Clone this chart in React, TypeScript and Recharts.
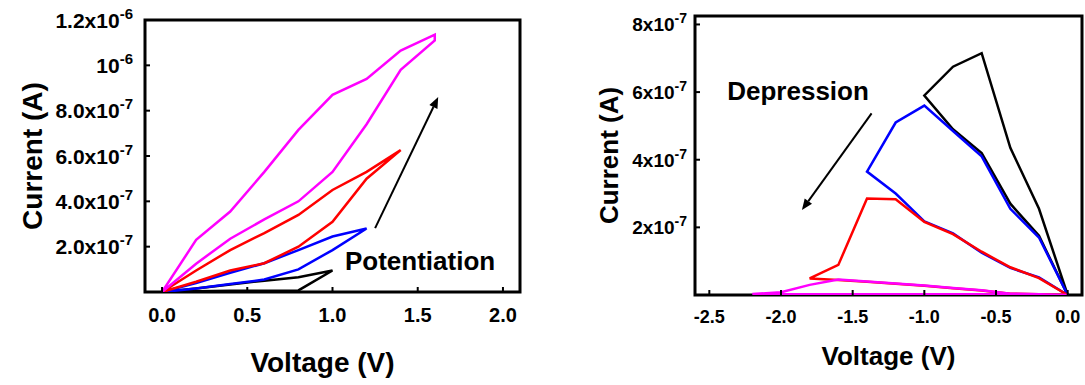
import React from "react"
import { LineChart, Line, XAxis, YAxis, ReferenceArea, ReferenceLine, ReferenceDot } from "recharts"

const FONT = '"Liberation Sans", Arial, Helvetica, sans-serif'

// ---- potentiation sweeps (positive bias), voltage in V, current in A ----
const POT_BLACK_V = [0, 0.2, 0.4, 0.6, 0.8, 1.0, 0.8, 0.6, 0.4, 0.2, 0]
const POT_BLACK_I = [0, 3e-9, 5e-9, 6e-9, 7e-9, 9.5e-8, 6.5e-8, 5e-8, 3.3e-8, 1.5e-8, 0]

const POT_BLUE_V = [0, 0.2, 0.4, 0.6, 0.8, 1.0, 1.2, 1.0, 0.8, 0.6, 0.4, 0.2, 0]
const POT_BLUE_I = [0, 1.5e-8, 3.5e-8, 5.5e-8, 1.0e-7, 1.85e-7, 2.8e-7, 2.45e-7, 1.85e-7, 1.27e-7, 8.5e-8, 4e-8, 0]

const POT_RED_V = [0, 0.2, 0.4, 0.6, 0.8, 1.0, 1.2, 1.4, 1.2, 1.0, 0.8, 0.6, 0.4, 0.2, 0]
const POT_RED_I = [0, 4.5e-8, 9.5e-8, 1.27e-7, 2.0e-7, 3.1e-7, 5.0e-7, 6.26e-7, 5.3e-7, 4.5e-7, 3.4e-7, 2.6e-7, 1.85e-7, 9.5e-8, 0]

const POT_MAG_V = [0, 0.2, 0.4, 0.6, 0.8, 1.0, 1.2, 1.4, 1.6, 1.6, 1.4, 1.2, 1.0, 0.8, 0.6, 0.4, 0.2, 0]
const POT_MAG_I = [0, 1.25e-7, 2.35e-7, 3.2e-7, 4.0e-7, 5.3e-7, 7.4e-7, 9.8e-7, 1.11e-6, 1.135e-6, 1.065e-6, 9.4e-7, 8.7e-7, 7.15e-7, 5.3e-7, 3.55e-7, 2.3e-7, 0]

// ---- depression sweeps (negative bias) ----
const DEP_BLACK_V = [0, -0.2, -0.4, -0.6, -0.8, -1.0, -0.8, -0.6, -0.4, -0.2, 0]
const DEP_BLACK_I = [0, 2.55e-7, 4.35e-7, 7.15e-7, 6.75e-7, 5.9e-7, 4.9e-7, 4.2e-7, 2.7e-7, 1.75e-7, 0]

const DEP_BLUE_V = [0, -0.2, -0.4, -0.6, -0.8, -1.0, -1.2, -1.4, -1.2, -1.0, -0.8, -0.6, -0.4, -0.2, 0]
const DEP_BLUE_I = [0, 1.7e-7, 2.55e-7, 4.1e-7, 4.85e-7, 5.6e-7, 5.1e-7, 3.65e-7, 3.0e-7, 2.18e-7, 1.82e-7, 1.25e-7, 8.0e-8, 5.2e-8, 0]

const DEP_RED_V = [0, -0.2, -0.4, -0.6, -0.8, -1.0, -1.2, -1.4, -1.6, -1.8, -1.6, -1.4, -1.2, -1.0, -0.8, -0.6, -0.4, -0.2, 0]
const DEP_RED_I = [0, 5e-8, 8.2e-8, 1.28e-7, 1.8e-7, 2.16e-7, 2.83e-7, 2.85e-7, 8.9e-8, 4.9e-8, 4.4e-8, 3.9e-8, 3.3e-8, 2.7e-8, 2.0e-8, 1.3e-8, 4e-9, 2e-9, 0]

const DEP_MAG_V = [0, -0.2, -0.4, -0.6, -0.8, -1.0, -1.2, -1.4, -1.6, -1.8, -2.0, -2.2, -2.0, -1.8, -1.6, -1.4, -1.2, -1.0, -0.8, -0.6, -0.4, -0.2, 0]
const DEP_MAG_I = [0, 1e-9, 1e-9, 2e-9, 2e-9, 2e-9, 2e-9, 2e-9, 2e-9, 2e-9, 2e-9, 3e-9, 8e-9, 3e-8, 4.6e-8, 4.0e-8, 3.4e-8, 2.8e-8, 2.1e-8, 1.4e-8, 4e-9, 2e-9, 0]

// ---- axes ----
const POT_X_DOMAIN = [-0.1, 2.1]
const POT_Y_DOMAIN = [0, 1.2e-6]
const POT_X_TICKS = [0, 0.5, 1.0, 1.5, 2.0]
const POT_X_LABELS = ["0.0", "0.5", "1.0", "1.5", "2.0"]
const POT_Y_TICKS = [2e-7, 4e-7, 6e-7, 8e-7, 1e-6, 1.2e-6]
const POT_Y_LABELS = [["2.0x10", "-7"], ["4.0x10", "-7"], ["6.0x10", "-7"], ["8.0x10", "-7"], ["10", "-6"], ["1.2x10", "-6"]]

const DEP_X_DOMAIN = [-2.6, 0.1]
const DEP_Y_DOMAIN = [0, 8.25e-7]
const DEP_X_TICKS = [-2.5, -2.0, -1.5, -1.0, -0.5, 0]
const DEP_X_LABELS = ["-2.5", "-2.0", "-1.5", "-1.0", "-0.5", "0.0"]
const DEP_Y_TICKS = [2e-7, 4e-7, 6e-7, 8e-7]
const DEP_Y_LABELS = [["2x10", "-7"], ["4x10", "-7"], ["6x10", "-7"], ["8x10", "-7"]]

const COLORS = { black: "#000000", blue: "#0000ff", red: "#ff0000", magenta: "#ff00ff" }

const pts = (v: number[], i: number[]) => v.map((x, k) => ({ v: x, i: i[k] }))

function YTick(props: any) {
  const { x, y, payload, ticks, labels, fontSize, supSize, gap } = props
  const k = ticks.indexOf(payload.value)
  const lab = labels[k] || ["", ""]
  return (
    <g>
      <line x1={x} y1={y} x2={x + 5} y2={y} stroke="#000" strokeWidth={2} />
      <text x={x - gap} y={y + fontSize * 0.36} textAnchor="end" fontFamily={FONT} fontWeight="bold" fontSize={fontSize} fill="#000">
        {lab[0]}
        <tspan fontSize={supSize} dy={-fontSize * 0.42}>{lab[1]}</tspan>
      </text>
    </g>
  )
}

function XTick(props: any) {
  const { x, y, payload, ticks, labels, fontSize, down } = props
  const k = ticks.indexOf(payload.value)
  return (
    <g>
      <line x1={x} y1={y} x2={x} y2={y - 5} stroke="#000" strokeWidth={2} />
      <text x={x} y={y + down} textAnchor="middle" fontFamily={FONT} fontWeight="bold" fontSize={fontSize} fill="#000">
        {labels[k]}
      </text>
    </g>
  )
}

function YTitle(props: any) {
  const { viewBox, text, fromPlot, fontSize } = props
  const vb = viewBox || { x: 0, y: 0, width: 0, height: 0 }
  const cx = vb.x + vb.width - fromPlot
  const cy = vb.y + vb.height / 2
  return (
    <text x={cx} y={cy} transform={`rotate(-90 ${cx} ${cy})`} textAnchor="middle" fontFamily={FONT} fontWeight="bold" fontSize={fontSize} fill="#000">
      {text}
    </text>
  )
}

function XTitle(props: any) {
  const { viewBox, text, dx, fontSize } = props
  const vb = viewBox || { x: 0, y: 0, width: 0, height: 0 }
  return (
    <text x={vb.x + vb.width / 2 + dx} y={vb.y + vb.height} textAnchor="middle" fontFamily={FONT} fontWeight="bold" fontSize={fontSize} fill="#000">
      {text}
    </text>
  )
}

function Arrow(p: any) {
  const { x1, y1, x2, y2 } = p
  const ang = Math.atan2(y2 - y1, x2 - x1)
  const L = 11
  const W = 4.5
  const bx = x2 - L * Math.cos(ang)
  const by = y2 - L * Math.sin(ang)
  const nx = -Math.sin(ang) * W
  const ny = Math.cos(ang) * W
  return (
    <g>
      <line x1={x1} y1={y1} x2={bx} y2={by} stroke="#000" strokeWidth={2} />
      <polygon points={`${x2},${y2} ${bx + nx},${by + ny} ${bx - nx},${by - ny}`} fill="#000" />
    </g>
  )
}

const note = (text: string, size: number) => (p: any) => (
  <text x={p.cx} y={p.cy} fontFamily={FONT} fontWeight="bold" fontSize={size} fill="#000">
    {text}
  </text>
)

function Potentiation() {
  const series = [
    { key: "black", data: pts(POT_BLACK_V, POT_BLACK_I), color: COLORS.black },
    { key: "blue", data: pts(POT_BLUE_V, POT_BLUE_I), color: COLORS.blue },
    { key: "red", data: pts(POT_RED_V, POT_RED_I), color: COLORS.red },
    { key: "magenta", data: pts(POT_MAG_V, POT_MAG_I), color: COLORS.magenta },
  ]
  return (
    <LineChart width={540} height={385} margin={{ top: 20, right: 20, bottom: 13, left: 35 }}>
      <XAxis
        dataKey="v"
        type="number"
        domain={POT_X_DOMAIN}
        ticks={POT_X_TICKS}
        allowDataOverflow
        axisLine={false}
        tickLine={false}
        tickSize={0}
        tickMargin={0}
        height={80}
        interval={0}
        tick={<XTick ticks={POT_X_TICKS} labels={POT_X_LABELS} fontSize={20} down={30} />}
        label={<XTitle text="Voltage (V)" dx={-10} fontSize={28} />}
      />
      <YAxis
        dataKey="i"
        type="number"
        domain={POT_Y_DOMAIN}
        ticks={POT_Y_TICKS}
        allowDataOverflow
        axisLine={false}
        tickLine={false}
        tickSize={0}
        tickMargin={0}
        width={110}
        interval={0}
        tick={<YTick ticks={POT_Y_TICKS} labels={POT_Y_LABELS} fontSize={21} supSize={15} gap={12} />}
        label={<YTitle text="Current (A)" fromPlot={103} fontSize={28} />}
      />
      {series.map(s => (
        <Line
          key={s.key}
          data={s.data}
          dataKey="i"
          type="linear"
          stroke={s.color}
          strokeWidth={2.5}
          dot={false}
          activeDot={false}
          isAnimationActive={false}
        />
      ))}
      <ReferenceArea x1={POT_X_DOMAIN[0]} x2={POT_X_DOMAIN[1]} y1={POT_Y_DOMAIN[0]} y2={POT_Y_DOMAIN[1]} fill="none" fillOpacity={0} stroke="#000" strokeWidth={3} />
      <ReferenceLine segment={[{ x: 1.25, y: 2.82e-7 }, { x: 1.62, y: 8.6e-7 }]} shape={Arrow} />
      <ReferenceDot x={1.073} y={9.7e-8} r={0} shape={note("Potentiation", 26)} />
    </LineChart>
  )
}

function Depression() {
  const series = [
    { key: "black", data: pts(DEP_BLACK_V, DEP_BLACK_I), color: COLORS.black },
    { key: "blue", data: pts(DEP_BLUE_V, DEP_BLUE_I), color: COLORS.blue },
    { key: "red", data: pts(DEP_RED_V, DEP_RED_I), color: COLORS.red },
    { key: "magenta", data: pts(DEP_MAG_V, DEP_MAG_I), color: COLORS.magenta },
  ]
  return (
    <LineChart width={545} height={385} margin={{ top: 16, right: 3, bottom: 20, left: 45 }}>
      <XAxis
        dataKey="v"
        type="number"
        domain={DEP_X_DOMAIN}
        ticks={DEP_X_TICKS}
        allowDataOverflow
        axisLine={false}
        tickLine={false}
        tickSize={0}
        tickMargin={0}
        height={70}
        interval={0}
        tick={<XTick ticks={DEP_X_TICKS} labels={DEP_X_LABELS} fontSize={18} down={28} />}
        label={<XTitle text="Voltage (V)" dx={0} fontSize={26} />}
      />
      <YAxis
        dataKey="i"
        type="number"
        domain={DEP_Y_DOMAIN}
        ticks={DEP_Y_TICKS}
        allowDataOverflow
        axisLine={false}
        tickLine={false}
        tickSize={0}
        tickMargin={0}
        width={110}
        interval={0}
        tick={<YTick ticks={DEP_Y_TICKS} labels={DEP_Y_LABELS} fontSize={19} supSize={14} gap={8} />}
        label={<YTitle text="Current (A)" fromPlot={77} fontSize={26} />}
      />
      {series.map(s => (
        <Line
          key={s.key}
          data={s.data}
          dataKey="i"
          type="linear"
          stroke={s.color}
          strokeWidth={2.5}
          dot={false}
          activeDot={false}
          isAnimationActive={false}
        />
      ))}
      <ReferenceArea x1={DEP_X_DOMAIN[0]} x2={DEP_X_DOMAIN[1]} y1={DEP_Y_DOMAIN[0]} y2={DEP_Y_DOMAIN[1]} fill="none" fillOpacity={0} stroke="#000" strokeWidth={3} />
      <ReferenceLine segment={[{ x: -1.368, y: 5.37e-7 }, { x: -1.854, y: 2.51e-7 }]} shape={Arrow} />
      <ReferenceDot x={-2.375} y={5.76e-7} r={0} shape={note("Depression", 26)} />
    </LineChart>
  )
}

export default function App() {
  return (
    <div style={{ position: "absolute", left: 0, top: 0, width: 1085, height: 385, background: "#fff" }}>
      <div style={{ position: "absolute", left: 0, top: 0 }}>
        <Potentiation />
      </div>
      <div style={{ position: "absolute", left: 540, top: 0 }}>
        <Depression />
      </div>
    </div>
  )
}
